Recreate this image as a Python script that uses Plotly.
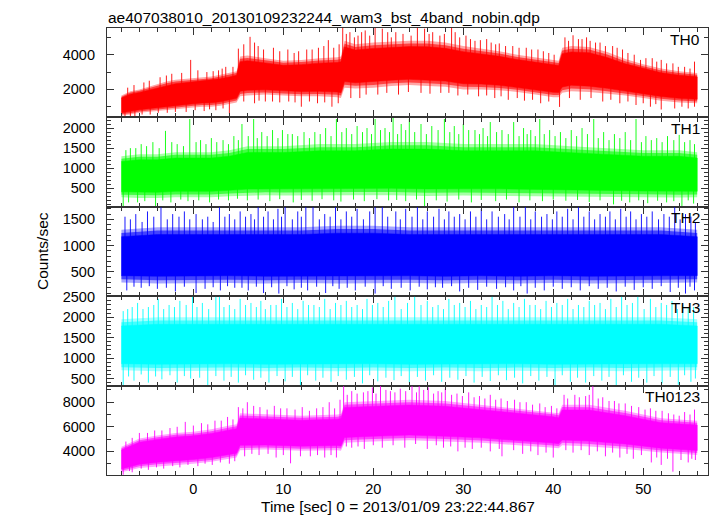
import numpy as np
import plotly.graph_objects as go

# ---------------- data ----------------
title_text = "ae407038010_20130109232244_wam3_bst_4band_nobin.qdp"
x_title = "Time [sec] 0 = 2013/01/09 23:22:44.867"
y_title = "Counts/sec"
panel_names = ["TH0", "TH1", "TH2", "TH3", "TH0123"]
panel_rgb = [(255, 0, 0), (0, 255, 0), (0, 0, 255), (0, 255, 255), (255, 0, 255)]

# TH0 : dense band envelope (time, upper, lower)
th0_t = [-8, -7, -6, -5, -4, -3, -2, -1, 0, 1, 2, 3, 4, 4.8, 5.2, 6, 8, 10, 12, 14, 16, 16.4, 16.8,
         18, 20, 22, 24, 26, 28, 30, 32, 34, 36, 38, 40, 40.6, 41, 42, 44, 46, 48, 50, 52, 54, 56]
th0_hi = [1650, 1900, 2000, 2150, 2300, 2450, 2550, 2600, 2650, 2700, 2750, 2850, 2950, 3050, 3900,
          3950, 3800, 3650, 3700, 3800, 3850, 3900, 4800, 4600, 4700, 4750, 4800, 4800, 4700, 4500,
          4350, 4200, 4000, 3850, 3700, 3650, 4400, 4500, 4450, 4150, 3750, 3450, 3200, 3050, 2950]
th0_lo = [500, 550, 650, 700, 750, 800, 850, 900, 950, 1000, 1000, 1050, 1150, 1250, 1600, 1650,
          1700, 1650, 1600, 1600, 1550, 1500, 2100, 2050, 2100, 2200, 2250, 2200, 2150, 2000, 2000,
          1950, 1850, 1700, 1550, 1550, 1800, 1900, 1850, 1750, 1650, 1500, 1350, 1250, 1200]
# single excursions (time, value) outside the dense band
th0_spikes = [(-7.3, 2100), (-5.5, 2400), (-3.7, 2700), (-2.4, 2900), (-0.3, 3700), (1.5, 3000),
              (2.8, 3100), (3.6, 3300), (5.0, 4350), (6.3, 5030), (7.2, 4500), (8.9, 4400),
              (10.5, 4300), (11.7, 4200), (13.2, 4300), (15.0, 4840), (16.2, 4600), (16.6, 5600),
              (17.4, 5300), (18.3, 5100), (19.1, 5400), (20.2, 5600), (21.0, 5500), (22.5, 5300),
              (23.3, 5200), (24.9, 5600), (25.7, 5500), (26.6, 5300), (27.4, 5100), (28.7, 5600),
              (29.6, 5000), (30.8, 4900), (31.9, 4840), (33.1, 4700), (34.0, 4650), (35.5, 4500),
              (37.0, 4400), (38.3, 4300), (39.5, 4100), (41.3, 5000), (42.2, 5120), (43.2, 4900),
              (44.1, 4800), (45.2, 4700), (46.6, 4500), (47.7, 4300), (49.0, 4000), (49.7, 3700),
              (51.0, 3800), (52.0, 3700), (53.3, 3500), (54.6, 3300), (55.7, 3600),
              (-6.6, 2250), (-4.9, 2500), (-3.0, 2800), (-1.3, 2950), (0.5, 3100), (2.2, 3050),
              (3.2, 3200), (4.4, 3300), (5.6, 4600), (6.8, 4700), (7.8, 4300), (9.6, 4200),
              (11.2, 4100), (12.6, 4300), (13.9, 4400), (14.5, 4500), (15.6, 4400), (17.0, 5200),
              (17.9, 5000), (18.7, 5300), (19.6, 5100), (21.6, 5300), (22.0, 5000), (24.2, 5100),
              (26.2, 5200), (27.9, 5200), (29.1, 5300), (30.3, 5100), (31.3, 4800), (32.6, 4900),
              (33.6, 4600), (34.7, 4500), (36.2, 4400), (37.6, 4300), (38.9, 4200), (40.1, 4000),
              (41.7, 4800), (42.8, 4900), (43.7, 5000), (44.7, 4700), (45.8, 4500), (47.1, 4400),
              (48.3, 4100), (50.3, 3800), (51.5, 3600), (52.6, 3500), (53.9, 3300), (55.2, 3200),
              (-7.6, 300), (-6.5, 450), (-4.8, 550), (-2.9, 650), (-0.8, 700), (1.2, 750),
              (2.5, 800), (4.0, 610), (6.8, 1200), (8.0, 1300), (9.6, 1250), (12.0, 1000),
              (13.8, 1200), (15.4, 1000), (17.5, 1500), (18.5, 1500), (20.5, 1700), (22.8, 1700),
              (25.3, 1800), (27.5, 1800), (29.4, 1650), (31.7, 1600), (33.5, 1500), (35.0, 1400),
              (36.8, 1350), (38.6, 1200), (40.7, 990), (43.0, 1400), (45.5, 1300), (47.4, 1200),
              (49.2, 1100), (50.8, 1000), (52.0, 840), (53.5, 900), (55.0, 900),
              (-7.0, 450), (-5.7, 550), (-3.9, 650), (-2.0, 700), (0.2, 800), (1.8, 850),
              (3.3, 900), (5.6, 1300), (7.3, 1350), (8.8, 1300), (10.6, 1300), (11.3, 1250),
              (12.9, 1300), (14.6, 1250), (16.1, 1200), (19.2, 1700), (21.5, 1800), (23.9, 1850),
              (26.3, 1750), (28.4, 1800), (30.5, 1700), (32.6, 1650), (34.2, 1600), (36.0, 1500),
              (37.7, 1400), (39.5, 1300), (41.8, 1500), (44.2, 1500), (46.4, 1400), (48.3, 1300),
              (50.0, 1200), (51.4, 1150), (54.3, 1000), (55.7, 1000)]

# TH1
th1_t = [-8, -6, -4, -2, 0, 2, 4, 6, 8, 10, 14, 18, 22, 26, 30, 34, 38, 42, 46, 50, 54, 56]
th1_hi = [1300, 1350, 1350, 1400, 1400, 1400, 1450, 1550, 1550, 1550, 1600, 1600, 1650, 1650,
          1600, 1600, 1600, 1550, 1500, 1450, 1450, 1400]
th1_lo = [280, 260, 260, 280, 280, 280, 300, 320, 330, 320, 320, 330, 330, 310, 320, 320, 310,
          300, 290, 280, 270, 280]
th1_spikes = [(-7.0, 1500), (-5.8, 1600), (-4.5, 1650), (-3.1, 1930), (-1.8, 1600), (-0.4, 2225),
              (0.8, 1700), (2.0, 1750), (3.3, 1700), (4.5, 1800), (5.4, 2100), (6.7, 2225),
              (7.6, 1900), (8.8, 1950), (9.9, 1950), (11.0, 1850), (12.3, 1900), (13.5, 1900),
              (14.7, 2000), (15.9, 2225), (17.0, 2000), (18.2, 2050), (19.3, 2000), (20.2, 2225),
              (21.3, 2000), (22.2, 2250), (23.1, 2100), (24.0, 2225), (25.3, 2100), (26.5, 2050),
              (27.9, 2225), (29.0, 2050), (30.0, 2100), (31.3, 1950), (32.2, 2000), (33.0, 2150),
              (34.3, 1950), (35.6, 2150), (36.7, 2000), (37.5, 1950), (38.5, 2225), (39.6, 1950),
              (40.8, 1900), (42.0, 1950), (43.2, 2000), (44.5, 2225), (45.6, 1900), (46.8, 1850),
              (48.0, 1900), (49.2, 2225), (50.3, 1800), (51.5, 1750), (52.7, 1800), (54.0, 1830),
              (55.2, 1700),
              (-7.5, 1450), (-6.4, 1500), (-5.2, 1550), (-3.8, 1500), (-2.4, 1650), (-1.1, 1550),
              (0.3, 1650), (1.4, 1600), (2.6, 1650), (3.9, 1600), (5.0, 1700), (6.1, 1800),
              (7.1, 1750), (8.2, 1800), (9.4, 1750), (10.5, 1850), (11.6, 1800), (12.9, 1750),
              (14.1, 1850), (15.3, 1800), (16.5, 1900), (17.6, 1850), (18.8, 1900), (19.8, 1850),
              (20.8, 1950), (21.8, 1900), (22.7, 1850), (23.6, 1950), (24.6, 1900), (25.9, 1850),
              (27.2, 1950), (28.5, 1900), (29.5, 1850), (30.6, 1950), (31.8, 1850), (32.7, 1800),
              (33.7, 1900), (35.0, 1850), (36.2, 1800), (37.1, 1850), (38.0, 1800), (39.0, 1850),
              (40.2, 1800), (41.4, 1750), (42.6, 1800), (43.8, 1850), (45.0, 1750), (46.2, 1700),
              (47.4, 1750), (48.6, 1700), (49.8, 1650), (50.9, 1700), (52.1, 1650), (53.4, 1700),
              (54.6, 1650), (55.7, 1600),
              (-7.8, 60), (-6.2, 150), (-4.2, 50), (-2.5, 150), (-0.6, 180), (1.8, 150), (3.9, 200),
              (6.0, 200), (8.5, 180), (11.1, 150), (13.2, 190), (16.4, 170), (19.0, 180),
              (21.7, 200), (23.6, 180), (25.7, 60), (28.2, 170), (30.9, 150), (33.6, 180),
              (36.2, 150), (38.8, 180), (41.4, 190), (44.0, 160), (46.7, 100), (48.5, 150),
              (50.5, 130), (52.6, 150), (54.3, 60), (55.6, 120),
              (-7.2, 150), (-5.4, 180), (-3.4, 200), (-1.4, 220), (0.6, 200), (2.8, 220),
              (4.9, 240), (7.2, 220), (9.6, 230), (12.0, 210), (14.3, 230), (15.6, 200),
              (17.8, 220), (20.4, 230), (22.6, 210), (24.8, 220), (27.0, 200), (29.5, 220),
              (32.0, 210), (34.8, 220), (37.4, 200), (40.0, 220), (42.7, 210), (45.2, 200),
              (47.6, 190), (49.5, 200), (51.6, 190), (53.4, 180), (55.0, 200)]

# TH2
th2_t = [-8, -4, 0, 4, 8, 12, 16, 20, 24, 28, 32, 36, 40, 44, 48, 52, 56]
th2_hi = [1300, 1350, 1350, 1350, 1350, 1350, 1380, 1380, 1350, 1350, 1350, 1350, 1350, 1350,
          1350, 1350, 1300]
th2_lo = [300, 280, 280, 290, 280, 290, 280, 280, 290, 280, 290, 280, 290, 280, 280, 290, 300]
th2_spikes = [(-7.6, 1550), (-6.4, 1600), (-5.1, 1650), (-3.6, 1730), (-2.3, 1600), (-1.0, 1650),
              (0.3, 1600), (1.6, 1550), (2.9, 1730), (4.0, 1600), (5.2, 1650), (6.4, 1600),
              (7.2, 1730), (8.3, 1650), (9.4, 1700), (10.2, 1730), (11.6, 1650), (12.5, 1730),
              (13.3, 1730), (14.6, 1600), (15.8, 1730), (17.0, 1650), (18.2, 1700), (19.6, 1650),
              (20.2, 1730), (21.0, 1730), (22.5, 1650), (23.6, 1700), (24.9, 1730), (26.0, 1650),
              (27.3, 1700), (28.4, 1650), (29.6, 1600), (30.8, 1650), (32.0, 1700), (33.2, 1650),
              (34.6, 1600), (35.6, 1730), (36.9, 1730), (38.0, 1650), (39.3, 1600), (40.4, 1650),
              (41.6, 1700), (42.8, 1730), (44.0, 1650), (45.2, 1600), (46.3, 1650), (47.5, 1700),
              (48.6, 1650), (49.8, 1600), (51.0, 1650), (52.3, 1600), (53.5, 1730), (54.7, 1600),
              (55.8, 1450),
              (-7.0, 1500), (-5.7, 1450), (-4.4, 1550), (-2.9, 1500), (-1.6, 1550), (-0.4, 1500),
              (1.0, 1500), (2.2, 1450), (3.5, 1550), (4.6, 1500), (5.8, 1550), (6.8, 1500),
              (7.8, 1550), (8.9, 1500), (9.8, 1550), (11.0, 1500), (12.0, 1550), (14.0, 1500),
              (15.2, 1550), (16.4, 1500), (17.6, 1550), (18.9, 1500), (21.6, 1550), (23.0, 1500),
              (24.3, 1550), (25.5, 1500), (26.7, 1550), (27.9, 1500), (29.0, 1550), (30.2, 1500),
              (31.4, 1550), (32.6, 1500), (33.9, 1550), (35.1, 1500), (36.3, 1550), (37.5, 1500),
              (38.7, 1550), (39.9, 1500), (41.0, 1550), (42.2, 1500), (43.4, 1550), (44.6, 1500),
              (45.8, 1550), (46.9, 1500), (48.1, 1550), (49.2, 1500), (50.4, 1550), (51.7, 1500),
              (52.9, 1550), (54.1, 1500), (55.3, 1550),
              (-7.4, 150), (-5.8, 200), (-4.0, 180), (-2.0, 130), (0.3, 100), (1.3, 180),
              (3.0, 150), (4.6, 200), (6.1, 150), (7.8, 100), (9.5, 90), (11.2, 170), (12.7, 150),
              (14.7, 100), (16.2, 180), (18.0, 150), (20.2, 90), (22.0, 180), (24.1, 150),
              (26.0, 170), (27.7, 200), (29.6, 130), (31.6, 160), (33.7, 180), (35.6, 150),
              (37.1, 90), (39.0, 150), (41.0, 180), (43.0, 150), (45.0, 180), (47.0, 130),
              (49.0, 160), (51.0, 180), (53.0, 120), (54.7, 90), (55.7, 150),
              (-6.6, 220), (-4.9, 230), (-3.0, 200), (-1.0, 220), (2.2, 210), (3.8, 230),
              (5.4, 200), (7.0, 220), (8.7, 210), (10.4, 230), (12.0, 200), (13.7, 220),
              (15.5, 230), (17.1, 200), (19.1, 220), (21.1, 230), (23.1, 200), (25.1, 220),
              (26.9, 210), (28.7, 230), (30.6, 200), (32.6, 220), (34.7, 210), (36.4, 230),
              (38.0, 200), (40.0, 220), (42.0, 210), (44.0, 230), (46.0, 200), (48.0, 220),
              (50.0, 210), (52.0, 230), (53.9, 200), (55.2, 220)]

# TH3
th3_t = [-8, -4, 0, 4, 8, 12, 16, 20, 24, 28, 32, 36, 40, 44, 48, 52, 56]
th3_hi = [1950, 2000, 2000, 2000, 2000, 2000, 2000, 2000, 2000, 2000, 2000, 2000, 2000, 2000,
          2000, 2000, 1950]
th3_lo = [700, 680, 680, 690, 680, 690, 680, 690, 680, 690, 680, 690, 680, 690, 680, 690, 700]
th3_spikes = [(-7.3, 2200), (-6.2, 2350), (-5.0, 2250), (-3.9, 2450), (-2.7, 2300), (-1.5, 2400),
              (-0.1, 2500), (1.0, 2350), (2.5, 2500), (2.9, 2500), (4.0, 2300), (5.2, 2450),
              (6.4, 2350), (7.5, 2400), (8.6, 2300), (9.8, 2450), (11.0, 2350), (12.2, 2400),
              (13.4, 2300), (14.6, 2450), (15.8, 2350), (17.0, 2400), (18.2, 2300), (19.3, 2450),
              (20.5, 2350), (21.7, 2400), (22.4, 2500), (23.8, 2350), (24.6, 2500), (26.0, 2400),
              (27.2, 2300), (28.4, 2450), (29.6, 2350), (30.8, 2400), (32.0, 2300), (33.2, 2500),
              (34.4, 2400), (35.6, 2350), (36.8, 2450), (38.0, 2300), (39.2, 2400), (40.4, 2350),
              (41.6, 2450), (42.8, 2300), (44.0, 2400), (45.2, 2350), (46.4, 2450), (47.6, 2500),
              (48.8, 2350), (49.4, 2500), (50.8, 2450), (52.0, 2350), (53.2, 2400), (54.4, 2300),
              (55.6, 2250),
              (-7.8, 2150), (-6.8, 2250), (-5.6, 2200), (-4.4, 2300), (-3.3, 2200), (-2.1, 2250),
              (-0.8, 2300), (0.4, 2250), (1.7, 2200), (3.4, 2250), (4.6, 2200), (5.8, 2300),
              (7.0, 2250), (8.0, 2200), (9.2, 2300), (10.4, 2250), (11.6, 2200), (12.8, 2300),
              (14.0, 2250), (15.2, 2200), (16.4, 2300), (17.6, 2250), (18.8, 2200), (19.9, 2300),
              (21.1, 2250), (23.1, 2200), (25.3, 2300), (26.6, 2250), (27.8, 2200), (29.0, 2300),
              (30.2, 2250), (31.4, 2200), (32.6, 2250), (33.8, 2300), (35.0, 2200), (36.2, 2250),
              (37.4, 2300), (38.6, 2200), (39.8, 2250), (41.0, 2300), (42.2, 2200), (43.4, 2250),
              (44.6, 2300), (45.8, 2200), (47.0, 2250), (48.2, 2300), (50.1, 2200), (51.4, 2250),
              (52.6, 2300), (53.8, 2200), (55.0, 2250),
              (-7.8, 330), (-6.6, 450), (-5.0, 400), (-3.5, 480), (-1.8, 400), (-0.3, 500),
              (1.6, 330), (3.4, 450), (5.0, 400), (6.7, 470), (8.4, 400), (10.2, 430), (11.9, 330),
              (13.6, 450), (15.3, 420), (17.0, 470), (18.8, 380), (20.5, 430), (22.3, 460),
              (24.0, 400), (25.8, 450), (27.6, 420), (29.4, 470), (31.2, 400), (33.0, 440),
              (34.8, 460), (36.6, 380), (38.4, 450), (40.2, 330), (41.9, 420), (43.6, 400),
              (45.4, 450), (47.0, 330), (48.7, 420), (50.4, 400), (52.1, 380), (53.9, 350),
              (55.3, 420),
              (-7.2, 550), (-5.8, 600), (-4.2, 550), (-2.6, 580), (-1.0, 560), (0.7, 520),
              (2.5, 560), (4.2, 540), (5.8, 580), (7.5, 520), (9.3, 560), (11.0, 540), (12.7, 580),
              (14.4, 520), (16.1, 560), (17.9, 540), (19.6, 580), (21.4, 520), (23.1, 560),
              (24.9, 540), (26.7, 580), (28.5, 520), (30.3, 560), (32.1, 540), (33.9, 580),
              (35.7, 520), (37.5, 560), (39.3, 540), (41.0, 580), (42.7, 520), (44.5, 560),
              (46.2, 540), (47.8, 580), (49.5, 520), (51.2, 560), (53.0, 540), (54.6, 580),
              (55.8, 500)]

# TH0123
th4_t = [-8, -6, -4, -2, 0, 2, 4, 4.8, 5.2, 8, 12, 16, 16.4, 16.8, 20, 24, 28, 32, 36, 40, 40.6,
         41, 44, 48, 52, 56]
th4_hi = [4380, 5050, 5300, 5500, 5600, 5800, 6100, 6200, 7100, 7000, 6900, 7000, 7050, 8000,
          8100, 8200, 8100, 7800, 7500, 7200, 7100, 7800, 7800, 7300, 6700, 6500]
th4_lo = [2300, 2650, 2800, 2900, 3000, 3150, 3400, 3500, 4100, 4150, 4050, 4100, 4050, 4700,
          4800, 4900, 4800, 4700, 4500, 4300, 4250, 4500, 4400, 4200, 3900, 3700]
th4_spikes = [(-7.5, 4800), (-6.0, 5500), (-4.3, 5700), (-2.6, 5900), (-0.9, 6400), (0.9, 6300),
              (2.4, 6500), (3.8, 6800), (5.0, 7600), (6.0, 8000), (7.4, 7600), (9.0, 7700),
              (10.4, 7500), (12.1, 7600), (13.7, 7500), (15.1, 8000), (16.3, 8200), (16.7, 9300),
              (17.6, 8900), (18.9, 8800), (19.9, 9200), (20.8, 9300), (21.9, 8900), (23.0, 9100),
              (24.3, 9300), (25.1, 9300), (26.1, 9200), (27.2, 8900), (28.0, 9100), (29.3, 8700),
              (30.6, 8800), (31.8, 8500), (33.0, 8600), (34.2, 8300), (35.7, 8200), (37.0, 8000),
              (38.5, 7900), (39.8, 7700), (41.2, 8600), (42.4, 8600), (43.6, 8500), (44.4, 9300),
              (45.5, 8400), (46.8, 8100), (48.0, 7900), (49.5, 7600), (50.8, 7500), (52.1, 7300),
              (53.4, 7000), (54.6, 7200), (55.7, 7400),
              (-6.8, 5100), (-5.1, 5500), (-3.5, 5700), (-1.8, 6000), (0.0, 6100), (1.6, 6200),
              (3.1, 6500), (4.4, 6600), (5.5, 7500), (6.7, 7700), (8.2, 7400), (9.7, 7500),
              (11.3, 7400), (12.9, 7300), (14.4, 7600), (15.7, 7500), (17.1, 8600), (18.2, 8700),
              (19.4, 8900), (20.3, 8700), (21.4, 9000), (22.4, 8800), (23.6, 8900), (24.8, 8800),
              (25.6, 9000), (26.7, 8700), (27.6, 8800), (28.7, 8600), (29.9, 8500), (31.2, 8400),
              (32.4, 8300), (33.6, 8200), (34.9, 8100), (36.3, 8000), (37.7, 7800), (39.1, 7600),
              (40.4, 7500), (41.6, 8300), (42.9, 8400), (44.0, 8600), (45.0, 8300), (46.2, 8100),
              (47.3, 7900), (48.7, 7700), (50.2, 7400), (51.4, 7300), (52.8, 7100), (54.0, 6900),
              (55.2, 7000),
              (-7.8, 2100), (-6.8, 2300), (-5.0, 2500), (-3.3, 2600), (-1.5, 2700), (0.5, 2800),
              (2.1, 2900), (4.0, 3000), (5.7, 3600), (7.3, 3700), (9.2, 3500), (10.8, 3030),
              (13.0, 3600), (14.6, 3500), (15.9, 3500), (17.6, 4300), (19.0, 4200), (21.0, 4300),
              (23.5, 4300), (26.0, 4200), (27.8, 4300), (29.4, 4000), (31.0, 4200), (33.0, 4000),
              (34.3, 3600), (36.6, 3800), (38.3, 3700), (40.0, 3500), (42.2, 3900), (44.0, 3700),
              (45.8, 3600), (47.4, 3500), (48.9, 3400), (50.9, 3100), (52.0, 2900), (53.3, 2350),
              (55.0, 3100), (55.8, 3300),
              (-7.1, 2400), (-5.8, 2600), (-4.1, 2700), (-2.3, 2800), (-0.6, 2900), (1.3, 3000),
              (3.0, 3100), (4.6, 3200), (6.5, 3800), (8.3, 3800), (10.0, 3700), (11.9, 3600),
              (13.8, 3700), (15.3, 3700), (17.0, 4400), (18.3, 4400), (20.0, 4500), (22.2, 4500),
              (24.7, 4600), (27.0, 4500), (28.6, 4400), (30.2, 4300), (32.0, 4300), (34.0, 4200),
              (35.6, 4100), (37.5, 4000), (39.2, 3900), (41.4, 4100), (43.1, 4100), (44.9, 4000),
              (46.6, 3900), (48.2, 3800), (49.8, 3700), (51.5, 3500), (52.7, 3400), (54.2, 3300),
              (55.4, 3400)]

y_ranges = [[385, 5540], [40, 2265], [40, 1738], [327, 2515], [2080, 9350]]
y_dtick = [2000, 500, 500, 500, 2000]
y_minor = [1000, 100, 100, 100, 1000]
x_range = [-9.6, 57.2]

panels = [
    (th0_t, th0_hi, th0_lo, th0_spikes),
    (th1_t, th1_hi, th1_lo, th1_spikes),
    (th2_t, th2_hi, th2_lo, th2_spikes),
    (th3_t, th3_hi, th3_lo, th3_spikes),
    (th4_t, th4_hi, th4_lo, th4_spikes),
]

# ---------------- figure ----------------
OFF = 8                      # page body margin of the browser
PAGE_W, PAGE_H = 717, 516
W, H = PAGE_W - OFF, PAGE_H - OFF
# plot area in page pixels: x 107..708, y 28..475
L, R, T, B = 107 - OFF, PAGE_W - 708, 28 - OFF, PAGE_H - 475
PW, PH = W - L - R, H - T - B
FONT = "Liberation Sans, Arial, Helvetica, sans-serif"

fig = go.Figure()
layout = dict(
    width=W, height=H, margin=dict(l=L, r=R, t=T, b=B, pad=0), autosize=False,
    plot_bgcolor="white", paper_bgcolor="white", showlegend=False,
    font=dict(family=FONT, size=15, color="black"),
)


def band(t, upper, lower, color, xa, ya, lw=0.5):
    tl = list(t)
    return go.Scatter(x=tl + tl[::-1], y=list(upper) + list(lower)[::-1],
                      mode="lines", fill="toself", fillcolor=color,
                      line=dict(color=color, width=lw), xaxis=xa, yaxis=ya,
                      hoverinfo="skip")


n = len(panels)
for i, (t, hi, lo, spikes) in enumerate(panels):
    k = i + 1
    xa = "x" if k == 1 else f"x{k}"
    ya = "y" if k == 1 else f"y{k}"
    r_, g_, b_ = panel_rgb[i]
    col = f"rgb({r_},{g_},{b_})"
    hi_a = np.array(hi, dtype=float)
    lo_a = np.array(lo, dtype=float)
    w = hi_a - lo_a
    # softened outer edge of the dense band
    fig.add_trace(band(t, hi_a, lo_a, f"rgba({r_},{g_},{b_},0.35)", xa, ya, 0))
    fig.add_trace(band(t, hi_a - 0.06 * w, lo_a + 0.06 * w,
                       f"rgba({r_},{g_},{b_},0.6)", xa, ya, 0))
    # excursions
    ta = np.array(t, dtype=float)
    xs, ys = [], []
    for st, sv in spikes:
        j = int(np.argmin(np.abs(ta - st)))
        base = 0.5 * (hi[j] + lo[j])
        xs += [st, st, None]
        ys += [base, sv, None]
    fig.add_trace(go.Scatter(
        x=xs, y=ys, mode="lines", line=dict(color=col, width=0.9),
        xaxis=xa, yaxis=ya, hoverinfo="skip"))
    # solid core
    fig.add_trace(band(t, hi_a - 0.13 * w, lo_a + 0.13 * w, col, xa, ya, 0.5))

    top = 1 - i / n
    bot = 1 - (i + 1) / n
    layout["xaxis" if k == 1 else f"xaxis{k}"] = dict(
        range=x_range, anchor=ya, domain=[0, 1],
        tick0=0, dtick=10, ticks="inside", ticklen=7, tickwidth=1, tickcolor="#333",
        minor=dict(ticks="inside", ticklen=4, dtick=2, tick0=0, tickcolor="#333"),
        showline=True, linecolor="#333", linewidth=1.2, mirror="allticks",
        showgrid=False, zeroline=False, showticklabels=(k == n),
        tickfont=dict(size=14.5), ticklabelstandoff=0,
        **({} if k == 1 else {"matches": "x"}))
    layout["yaxis" if k == 1 else f"yaxis{k}"] = dict(
        range=y_ranges[i], anchor=xa, domain=[bot, top],
        tick0=0, dtick=y_dtick[i], ticks="inside", ticklen=7, tickwidth=1, tickcolor="#333",
        minor=dict(ticks="inside", ticklen=4, dtick=y_minor[i], tick0=0, tickcolor="#333"),
        showline=True, linecolor="#333", linewidth=1.2, mirror="allticks",
        showgrid=False, zeroline=False, tickfont=dict(size=14.5), ticklabelstandoff=8)


def px_x(px):   # page pixel -> paper x
    return (px - OFF - L) / PW


def px_y(py):   # page pixel -> paper y
    return (H - B - (py - OFF)) / PH


ann = [
    dict(text=title_text, x=px_x(107), y=px_y(OFF), xanchor="left", yanchor="top",
         xref="paper", yref="paper", showarrow=False, borderpad=0, font=dict(size=15.5)),
    dict(text=x_title, x=px_x(398), y=px_y(516), xanchor="center", yanchor="bottom",
         xref="paper", yref="paper", showarrow=False, borderpad=0, font=dict(size=15.5)),
    dict(text=y_title, x=px_x(42), y=px_y(251), xanchor="center", yanchor="middle",
         xref="paper", yref="paper", showarrow=False, textangle=-90, font=dict(size=15.5)),
]
for i, name in enumerate(panel_names):
    ptop = 28 + i * 447 / n
    ann.append(dict(text=name, x=px_x(702), y=px_y(ptop + 11), xanchor="right",
                    yanchor="middle", xref="paper", yref="paper", showarrow=False,
                    font=dict(size=15.5)))
layout["annotations"] = ann
fig.update_layout(**layout)
fig.write_html("out.html")
